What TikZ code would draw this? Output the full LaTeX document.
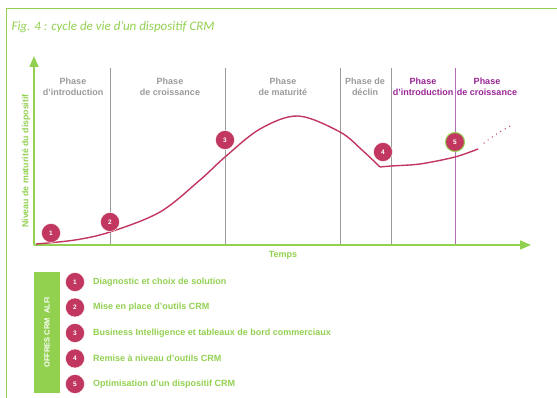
\documentclass[tikz,border=0pt]{standalone}
\usepackage{fontspec}
\setmainfont{Liberation Sans}
\newfontfamily\titlefont{Carlito}
\usetikzlibrary{positioning,arrows.meta}
\definecolor{alfigreen}{HTML}{92D050}
\definecolor{crmred}{HTML}{C1375F}
\definecolor{phasegray}{HTML}{9A9A9A}
\definecolor{newpurple}{HTML}{9A2496}
\definecolor{purpleline}{HTML}{B46CB8}

\begin{document}
\begin{tikzpicture}[x=1pt, y=-1pt, node distance=25.5pt,
  num node/.style={circle, fill=crmred, draw=white, line width=0.4pt, minimum size=19pt, inner sep=0pt, text=white, font=\fontsize{6.5}{7}\selectfont\bfseries},
  phase/.style={align=center, text=phasegray, font=\fontsize{9}{11}\selectfont\bfseries},
  new phase/.style={phase, text=newpurple},
  legend text/.style={text=alfigreen, font=\fontsize{9}{10}\selectfont\bfseries},
  axis/.style={alfigreen, line width=1.6pt, -{Triangle[length=11pt,width=9pt]}},
  phase line/.style={phasegray, line width=0.8pt},
  curve/.style={crmred, line width=1.4pt, line join=round}]

			\useasboundingbox (0,0) rectangle (557,398);

			% frame and title
			\coordinate (fbl) at (6.5,398);
			\coordinate (ftl) at (6.5,8.5);
			\coordinate (ftr) at (557,8.5);
			\draw[alfigreen, line width=1.8pt] (fbl) -- (ftl) -- (ftr);
			\node[anchor=west, text=alfigreen, font=\titlefont\itshape\fontsize{13}{15}\selectfont] (title) at (8,27) {Fig. 4 : cycle de vie d’un dispositif CRM};

			% phase separators
			\foreach \x [count=\i] in {110,225,340,391} {
				\coordinate (t\i) at (\x,68);
				\coordinate (b\i) at (\x,245);
				\draw[phase line] (t\i) -- (b\i);
			}
			\coordinate (t5) at (455,68);
			\coordinate (b5) at (455,245);
			\draw[purpleline, line width=1pt] (t5) -- (b5);

			% phase labels
			\node[phase] (p1) at (73,87) {Phase\\d'introduction};
			\node[phase] (p2) at (170,87) {Phase\\de croissance};
			\node[phase] (p3) at (283,87) {Phase\\de maturité};
			\node[phase] (p4) at (365,87) {Phase de\\déclin};
			\node[new phase] (p5) at (423,87) {Phase\\d'introduction};
			\node[new phase] (p6) at (487,87) {Phase\\de croissance};

			% axes
			\coordinate (origin) at (34,245);
			\coordinate (ytop) at (34,56);
			\coordinate (xend) at (531,245);
			\draw[axis] (origin) -- (ytop);
			\draw[axis] (origin) -- (xend);
			\node[rotate=90, text=alfigreen, font=\fontsize{8.8}{10}\selectfont\bfseries] (ylabel) at (26,161) {Niveau de maturité du dispositif};
			\node[text=alfigreen, font=\fontsize{9}{10}\selectfont\bfseries] (xlabel) at (283,255) {Temps};

			% draw life cycle curve
			\draw[curve] plot[smooth, tension=0.55] coordinates {(36,244) (75,240) (110,232) (160,212) (200,180) (225,157) (260,129) (298,116) (340,132) (362,150) (380,167)};
			\draw[curve] plot[smooth, tension=0.5] coordinates {(380,167) (391,166) (420,164) (455,157) (478,149)};
			\draw[crmred, line width=1.4pt, line cap=round, dash pattern=on 0.1pt off 5pt] (484,143) to[bend left=5] (514,124);

			% numbered steps on the curve
			\node[num node] (n1) at (51,233) {1};
			\node[num node] (n2) at (110,222) {2};
			\node[num node] (n3) at (225,140) {3};
			\node[num node] (n4) at (383,152) {4};
			\node[num node, draw=alfigreen, line width=1pt] (n5) at (455,142) {5};

			% legend
			\node[fill=alfigreen, rotate=90, minimum width=121pt, minimum height=26pt, inner sep=0pt, text=white, font=\fontsize{7.5}{8}\selectfont\bfseries] (offers) at (47,332.5) {OFFRES CRM \ ALFI};
			\node[num node] (l1) at (75,282) {1};
			\node[num node] (l2) [below of=l1] {2};
			\node[num node] (l3) [below of=l2] {3};
			\node[num node] (l4) [below of=l3] {4};
			\node[num node] (l5) [below of=l4] {5};
			\node[legend text] (d1) [right=5pt of l1] {Diagnostic et choix de solution};
			\node[legend text] (d2) [right=5pt of l2] {Mise en place d’outils CRM};
			\node[legend text] (d3) [right=5pt of l3] {Business Intelligence et tableaux de bord commerciaux};
			\node[legend text] (d4) [right=5pt of l4] {Remise à niveau d’outils CRM};
			\node[legend text] (d5) [right=5pt of l5] {Optimisation d’un dispositif CRM};

		\end{tikzpicture}
\end{document}
